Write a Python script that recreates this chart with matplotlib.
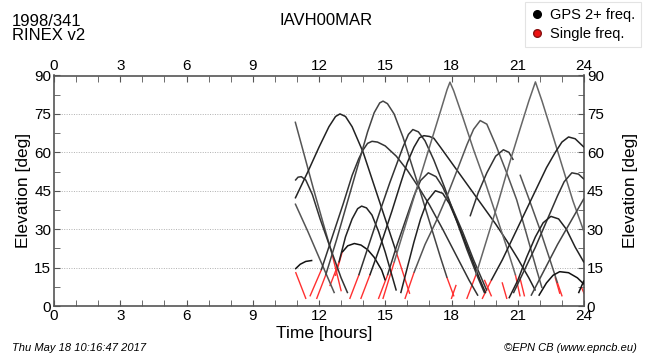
import matplotlib
matplotlib.use("Agg")
import matplotlib.pyplot as plt
from matplotlib.lines import Line2D
from matplotlib.ticker import MultipleLocator

plt.rcParams['font.family'] = ['Liberation Sans', 'DejaVu Sans']

station = "IAVH00MAR"
date_label = "1998/341"
rinex_label = "RINEX v2"
stamp = "Thu May 18 10:16:47 2017"
credit = "\u00a9EPN CB (www.epncb.eu)"
x_ticks = [0, 3, 6, 9, 12, 15, 18, 21, 24]
y_ticks = [0, 15, 30, 45, 60, 75, 90]

# satellite passes (time [h], elevation [deg]) - dual frequency part
pass_01 = [(10.92, 72), (11.3, 60), (11.74, 46), (12.2, 32), (12.6, 20)]
pass_02 = [(10.92, 49), (11.05, 50.3), (11.2, 50.5), (11.4, 49.2), (11.7, 43.5), (12.05, 34), (12.5, 23), (13.0, 11), (13.3, 5)]
pass_03 = [(10.92, 42), (11.5, 52.5), (12.0, 62), (12.45, 70), (12.75, 74), (12.95, 75), (13.2, 74), (13.5, 70), (14.0, 60), (14.5, 47), (15.0, 34), (15.5, 21)]
pass_04 = [(10.92, 40), (11.5, 29), (12.0, 19), (12.45, 10), (12.7, 5)]
pass_05 = [(10.92, 14.4), (11.15, 16.3), (11.4, 17.4), (11.7, 17.8)]
pass_06 = [(12.1, 14), (12.6, 27), (13.1, 40), (13.5, 51), (13.8, 57.5), (14.0, 61), (14.2, 63.5), (14.4, 64.3), (14.65, 64), (15.0, 62.5), (15.5, 58.5), (16.0, 53), (16.5, 46.5), (17.0, 39.5), (17.6, 30), (18.2, 20), (18.8, 10), (19.2, 4)]
pass_07 = [(12.3, 12), (12.8, 26), (13.3, 41), (13.8, 56), (14.2, 68), (14.5, 75.5), (14.75, 79.3), (14.9, 80), (15.1, 79), (15.4, 75), (15.8, 66), (16.5, 47), (17.0, 33), (17.5, 19), (17.8, 11)]
pass_08 = [(12.9, 17), (13.2, 27), (13.5, 34), (13.75, 38), (13.93, 39), (14.15, 38.3), (14.4, 35.5), (14.7, 29), (15.0, 21), (15.3, 12), (15.5, 6)]
pass_09 = [(13.05, 21), (13.3, 23.5), (13.6, 24.4), (13.9, 23.8), (14.2, 22), (14.5, 19), (14.84, 14), (15.0, 10)]
pass_10 = [(13.8, 12), (14.3, 25), (14.8, 38), (15.2, 48), (15.5, 55), (15.8, 62), (16.05, 67), (16.25, 68.9), (16.5, 68), (16.8, 64.5), (17.2, 57), (17.7, 46), (18.2, 34), (18.7, 22), (19.2, 11), (19.5, 5)]
pass_11 = [(14.3, 12), (14.8, 24), (15.3, 37), (15.7, 48), (16.0, 56), (16.3, 62), (16.55, 65.7), (16.75, 66.5), (17.0, 66.2), (17.2, 65.5), (17.5, 62), (18.0, 56), (18.5, 50), (19.0, 44), (19.5, 38), (20.0, 32), (20.5, 25.5), (21.0, 18.5), (21.5, 11), (21.8, 6)]
pass_12 = [(15.1, 12), (15.5, 23), (15.9, 33), (16.3, 43), (16.6, 49), (16.95, 52), (17.3, 50.5), (17.6, 46.5), (18.0, 39), (18.5, 29), (19.0, 18), (19.4, 10), (19.6, 6)]
pass_13 = [(15.7, 5), (16.0, 15), (16.3, 25), (16.6, 34), (16.9, 41), (17.27, 45), (17.6, 44), (17.9, 40), (18.3, 32), (18.8, 21), (19.3, 10), (19.55, 5)]
pass_14 = [(15.4, 17), (16.0, 34), (16.5, 48), (17.0, 62), (17.5, 76), (17.8, 84.5), (17.93, 87.4), (18.1, 84), (18.5, 74), (19.0, 61), (19.5, 49), (20.0, 36), (20.5, 23), (20.9, 12)]
pass_15 = [(16.3, 13), (16.8, 24), (17.3, 33), (17.8, 43), (18.3, 54), (18.7, 63), (19.0, 69), (19.3, 72.4), (19.6, 71), (20.0, 63), (20.5, 52), (20.95, 41.5), (21.4, 28), (21.86, 14), (22.1, 7)]
pass_16 = [(18.84, 35), (19.2, 44), (19.6, 52), (20.0, 58.5), (20.35, 61), (20.6, 60), (20.8, 57)]
pass_17 = [(21.1, 51.3), (21.5, 42), (22.0, 30), (22.46, 18), (22.8, 9)]
pass_18 = [(19.1, 12), (19.6, 26), (20.1, 40), (20.6, 55), (21.1, 69), (21.5, 80), (21.8, 87.5), (22.1, 80), (22.5, 69), (23.0, 55), (23.5, 41), (24.0, 29)]
pass_19 = [(19.8, 10), (20.3, 18), (20.8, 27), (21.3, 36), (21.8, 45), (22.3, 54), (22.7, 60), (23.0, 64), (23.3, 66), (23.6, 65.3), (24.0, 62)]
pass_20 = [(20.8, 5), (21.3, 14), (21.8, 23), (22.3, 33), (22.8, 43), (23.1, 48.5), (23.45, 52), (23.75, 51.5), (24.0, 49.5)]
pass_21 = [(20.6, 3), (21.0, 10), (21.4, 19), (21.8, 27), (22.15, 32.5), (22.5, 35), (22.85, 34), (23.2, 30), (23.6, 23), (24.0, 17)]
pass_22 = [(21.95, 4), (22.3, 9), (22.6, 12), (22.9, 13.4), (23.3, 13), (23.7, 11), (24.0, 8.5)]
pass_23 = [(23.75, 5), (24.0, 10)]
pass_24 = [(21.6, 4), (22.2, 14), (22.8, 24), (23.4, 33), (24.0, 42)]

passes = [pass_01, pass_02, pass_03, pass_04, pass_05, pass_06, pass_07, pass_08,
          pass_09, pass_10, pass_11, pass_12, pass_13, pass_14, pass_15, pass_16,
          pass_17, pass_18, pass_19, pass_20, pass_21, pass_22, pass_23, pass_24]
pass_shades = ['#555555', '#333333', '#222222', '#555555', '#111111', '#333333',
               '#444444', '#222222', '#111111', '#333333', '#222222', '#333333',
               '#222222', '#666666', '#555555', '#333333', '#555555', '#666666',
               '#222222', '#333333', '#222222', '#111111', '#111111', '#444444']

# single frequency parts
red_segments = [
    [(12.6, 20), (13.0, 6)],
    [(15.5, 21), (16.1, 5)],
    [(10.95, 13), (11.4, 3)],
    [(11.6, 4), (12.1, 14)],
    [(11.9, 3), (12.3, 12)],
    [(17.8, 11), (18.1, 4)],
    [(12.5, 8), (12.9, 17)],
    [(12.75, 12), (13.05, 21)],
    [(13.4, 3), (13.8, 12)],
    [(13.9, 3), (14.3, 12)],
    [(14.7, 3), (15.1, 12)],
    [(14.9, 3), (15.4, 17)],
    [(20.9, 12), (21.1, 4)],
    [(15.9, 3), (16.3, 13)],
    [(22.8, 9), (23.0, 4)],
    [(18.7, 3), (19.1, 12)],
    [(19.4, 3), (19.8, 10)],
    [(18.0, 3), (18.2, 8)],
    [(19.5, 10), (19.8, 4)],
    [(20.3, 9), (20.5, 3)],
    [(21.1, 11), (21.3, 4)],
    [(22.7, 11), (22.9, 5)],
    [(23.9, 7), (24.0, 5)],
]

fig = plt.figure(figsize=(6.5, 3.6), dpi=100)
ax = fig.add_axes([54 / 650, 1 - 306 / 360, 530 / 650, 230.5 / 360])

for pts, shade in zip(passes, pass_shades):
    ax.plot([p[0] for p in pts], [p[1] for p in pts], color=shade, lw=1.1,
            solid_capstyle='butt', zorder=3)
for seg in red_segments:
    ax.plot([p[0] for p in seg], [p[1] for p in seg], color='#ff3030', lw=1.0, zorder=2)

ax.set_xlim(0, 24)
ax.set_ylim(0, 90)
ax.set_xticks(x_ticks)
ax.set_yticks(y_ticks)
ax.xaxis.set_minor_locator(MultipleLocator(1))
ax.yaxis.set_minor_locator(MultipleLocator(7.5))
for yv in y_ticks[1:-1]:
    ax.axhline(yv, color='#b0b0b0', lw=0.7, ls=(0, (1, 1.5)), zorder=1)
ax.tick_params(which='both', direction='in', top=True, right=True,
               labeltop=True, labelright=True, labelsize=11, color='#555555',
               pad=2)
ax.tick_params(which='major', length=4)
ax.tick_params(which='minor', length=4)
for s in ax.spines.values():
    s.set_color('#555555')
    s.set_linewidth(1.2)

ax.set_xlabel("Time [hours]", fontsize=12.5, labelpad=0)
ax.xaxis.set_label_coords((324 - 54) / 530, -0.085)
ax.set_ylabel("Elevation [deg]", fontsize=12.5, labelpad=2)
fig.text(631 / 650, 1 - 190 / 360, "Elevation [deg]", rotation=90, fontsize=12.5,
         ha='center', va='center')

fig.text(12 / 650, 1 - 14 / 360, date_label + "\n" + rinex_label, fontsize=12,
         va='top', ha='left', linespacing=0.95)
fig.text(326 / 650, 1 - 13 / 360, station, fontsize=12, va='top', ha='center')
fig.text(12 / 650, 1 - 348 / 360, stamp, fontsize=8, style='italic', va='center')
fig.text(637 / 650, 1 - 348 / 360, credit, fontsize=8, style='italic', va='center', ha='right')

handles = [Line2D([], [], ls='none', marker='o', color='black', markersize=5.5),
           Line2D([], [], ls='none', marker='o', color='#ee1111', markeredgecolor='#881111',
                  markersize=5.5)]
leg = fig.legend(handles, ["GPS 2+ freq.", "Single freq."], loc='upper right',
                 bbox_to_anchor=(641 / 650, 1 - 2 / 360), fontsize=10.5, frameon=True,
                 fancybox=False, handlelength=0.8, handletextpad=0.5,
                 borderpad=0.4, labelspacing=0.35, borderaxespad=0)
leg.get_frame().set_edgecolor('#dddddd')
leg.get_frame().set_linewidth(0.8)

fig.savefig("out.png", dpi=100)
